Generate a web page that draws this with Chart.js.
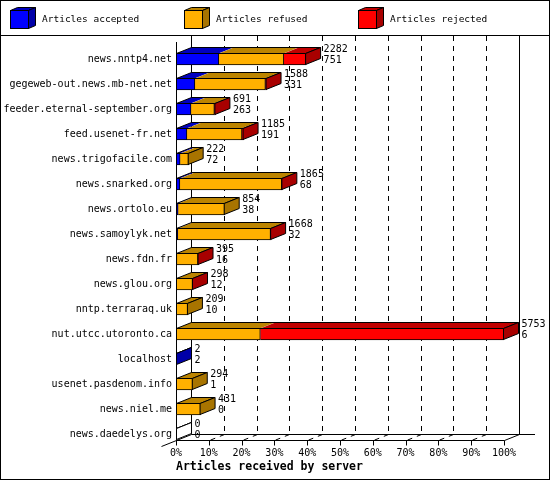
<!DOCTYPE html>
<html>
<head>
<meta charset="utf-8">
<script src="https://cdn.jsdelivr.net/npm/chart.js@4.4.0/dist/chart.umd.min.js"></script>
<style>
  html, body { margin: 0; padding: 0; background: #fff; }
  canvas { display: block; }
</style>
</head>
<body>
<canvas id="serverChart" width="550" height="480"></canvas>
<script>
// values
const servers = ['news.nntp4.net', 'gegeweb-out.news.mb-net.net', 'feeder.eternal-september.org',
  'feed.usenet-fr.net', 'news.trigofacile.com', 'news.snarked.org', 'news.ortolo.eu',
  'news.samoylyk.net', 'news.fdn.fr', 'news.glou.org', 'nntp.terraraq.uk', 'nut.utcc.utoronto.ca',
  'localhost', 'usenet.pasdenom.info', 'news.niel.me', 'news.daedelys.org'];
const received = [2282, 1588, 691, 1185, 222, 1865, 854, 1668, 395, 298, 209, 5753, 2, 294, 431, 0];
const accepted = [751, 331, 263, 191, 72, 68, 38, 32, 16, 12, 10, 6, 2, 1, 0, 0];
const refused = [1140, 1237, 410, 966, 150, 1787, 816, 1626, 370, 278, 199, 1473, 0, 293, 431, 0];
const rejected = [391, 20, 18, 28, 0, 10, 0, 10, 9, 8, 0, 4274, 0, 0, 0, 0];
const seriesNames = ['Articles accepted', 'Articles refused', 'Articles rejected'];
const percentTicks = [0, 10, 20, 30, 40, 50, 60, 70, 80, 90, 100];

const maxReceived = Math.max(...received);
const toPercent = arr => arr.map(v => v / maxReceived * 100);

const faceColors = [
  { front: '#0000ff', top: '#0000c0', side: '#0000a8' },
  { front: '#ffb000', top: '#bc8400', side: '#a87400' },
  { front: '#ff0000', top: '#c00000', side: '#a80000' }
];
const MONO = "'DejaVu Sans Mono', monospace";
const BAR_H = 12;
const DX = 15, DY = -6;

function poly(ctx, pts) {
  ctx.beginPath();
  ctx.moveTo(pts[0][0], pts[0][1]);
  for (let i = 1; i < pts.length; i++) ctx.lineTo(pts[i][0], pts[i][1]);
  ctx.closePath();
}

function line(ctx, x0, y0, x1, y1) {
  ctx.beginPath();
  ctx.moveTo(x0, y0);
  ctx.lineTo(x1, y1);
  ctx.stroke();
}

// draws the fake 3d parts: walls, floor, grid, top and side faces, legend
const box3d = {
  id: 'box3d',
  beforeDraw(chart) {
    const ctx = chart.ctx;
    ctx.save();
    ctx.fillStyle = '#fff';
    ctx.fillRect(0, 0, chart.width, chart.height);
    ctx.restore();
  },
  beforeDatasetsDraw(chart) {
    const { ctx, scales: { x, y } } = chart;
    const front = Math.round(y.getPixelForValue(servers.length - 1) + BAR_H / 2) + 0.5;
    const floor = front + DY;
    const x0 = Math.round(x.getPixelForValue(0)) + 0.5;
    const x100 = Math.round(x.getPixelForValue(100)) + 0.5;
    ctx.save();
    ctx.strokeStyle = '#000';
    ctx.lineWidth = 1;

    // dashed grid on the back wall and the floor
    ctx.setLineDash([5, 5]);
    percentTicks.slice(1, -1).forEach(v => {
      const xf = Math.round(x.getPixelForValue(v)) + 0.5;
      line(ctx, xf + DX, 36, xf + DX, floor);
      line(ctx, xf + DX, floor, xf, front);
    });
    ctx.setLineDash([]);

    // walls
    line(ctx, x0 + DX, 36, x0 + DX, floor);
    line(ctx, x100 + DX, 36, x100 + DX, floor);
    line(ctx, x0, 42, x0, front);
    // floor and front axis
    line(ctx, x0 + DX, floor, 535, floor);
    line(ctx, x0 - DX, front - DY, x0 + DX, floor);
    line(ctx, x0, front, x100, front);
    line(ctx, x100, front, x100 + DX, floor);
    percentTicks.forEach(v => {
      const xf = Math.round(x.getPixelForValue(v)) + 0.5;
      line(ctx, xf, front, xf, front + 5);
    });
    ctx.restore();
  },
  afterDatasetsDraw(chart) {
    const { ctx, scales: { x } } = chart;
    const metas = chart.data.datasets.map((d, k) => chart.getDatasetMeta(k));
    const xStart = Math.round(x.getPixelForValue(0)) + 0.5;
    ctx.save();
    ctx.strokeStyle = '#000';
    ctx.lineWidth = 1;
    servers.forEach((name, i) => {
      const bars = metas.map(m => m.data[i]);
      const yc = bars[0].y;
      const top = yc - BAR_H / 2 + 0.5;
      const bottom = yc + BAR_H / 2 - 0.5;
      let xe = xStart;
      let last = -1;
      bars.forEach((b, k) => {
        if (chart.data.datasets[k].data[i] > 0) {
          last = k;
          xe = Math.max(b.x - 0.5, xStart);
        }
      });
      // top faces, one per segment
      bars.forEach((b, k) => {
        if (chart.data.datasets[k].data[i] <= 0) return;
        const a = Math.max(b.base, xStart), e = Math.max(b.x - 0.5, xStart);
        ctx.fillStyle = faceColors[k].top;
        poly(ctx, [[a, top], [e, top], [e + DX, top + DY], [a + DX, top + DY]]);
        ctx.fill();
      });
      poly(ctx, [[xStart, top], [xe, top], [xe + DX, top + DY], [xStart + DX, top + DY]]);
      ctx.stroke();
      // side face coloured by the last segment
      ctx.fillStyle = last >= 0 ? faceColors[last].side : '#fff';
      poly(ctx, [[xe, top], [xe + DX, top + DY], [xe + DX, bottom + DY], [xe, bottom]]);
      ctx.fill();
      ctx.stroke();
      // front axis line over the bar starts
      line(ctx, xStart, top, xStart, bottom);

      ctx.fillStyle = '#000';
      ctx.font = '10px ' + MONO;
      ctx.textBaseline = 'middle';
      ctx.textAlign = 'left';
      ctx.fillText(String(received[i]), xe + DX + 3, yc - 10);
      ctx.fillText(String(accepted[i]), xe + DX + 3, yc + 1);
    });
    ctx.restore();
  },
  afterDraw(chart) {
    const ctx = chart.ctx;
    ctx.save();
    ctx.strokeStyle = '#000';
    ctx.lineWidth = 1;
    ctx.strokeRect(0.5, 0.5, chart.width - 1, chart.height - 1);
    line(ctx, 0, 35.5, chart.width, 35.5);

    // legend with little cubes
    seriesNames.forEach((label, k) => {
      const bx = 10.5 + 174 * k, by = 10.5, s = 18;
      ctx.fillStyle = faceColors[k].top;
      poly(ctx, [[bx, by], [bx + s, by], [bx + s + 7, by - 3], [bx + 7, by - 3]]);
      ctx.fill(); ctx.stroke();
      ctx.fillStyle = faceColors[k].side;
      poly(ctx, [[bx + s, by], [bx + s + 7, by - 3], [bx + s + 7, by + s - 3], [bx + s, by + s]]);
      ctx.fill(); ctx.stroke();
      ctx.fillStyle = faceColors[k].front;
      ctx.fillRect(bx, by, s, s);
      ctx.strokeRect(bx, by, s, s);
      ctx.fillStyle = '#000';
      ctx.font = '9.5px ' + MONO;
      ctx.textBaseline = 'middle';
      ctx.textAlign = 'left';
      ctx.fillText(label, bx + 31.5, 20);
    });
    ctx.restore();
  }
};

const ctx = document.getElementById('serverChart').getContext('2d');

const serverChart = new Chart(ctx, {
  type: 'bar',
  data: {
    labels: servers,
    datasets: [accepted, refused, rejected].map((vals, k) => ({
      label: seriesNames[k],
      data: toPercent(vals),
      backgroundColor: faceColors[k].front,
      borderColor: '#000',
      borderWidth: { top: 1, bottom: 1, right: 1, left: 0 },
      borderSkipped: false,
      barThickness: BAR_H
    }))
  },
  options: {
    indexAxis: 'y',
    responsive: false,
    animation: false,
    layout: { padding: { top: 46.5, right: 46, bottom: 6.5, left: 0 } },
    plugins: {
      legend: { display: false },
      tooltip: { enabled: false }
    },
    scales: {
      x: {
        stacked: true,
        min: 0,
        max: 100,
        afterBuildTicks: axis => { axis.ticks = percentTicks.map(v => ({ value: v })); },
        grid: { display: false, drawTicks: false },
        border: { display: false },
        ticks: {
          padding: 1,
          color: '#000',
          autoSkip: false,
          maxRotation: 0,
          font: { family: MONO, size: 10 },
          callback: v => v + '%'
        },
        title: {
          display: true,
          text: 'Articles received by server',
          align: 'start',
          color: '#000',
          font: { family: MONO, size: 11.5, weight: 'bold' },
          padding: { top: 0, bottom: 0 }
        },
        afterFit: axis => { axis.height = 27; }
      },
      y: {
        stacked: true,
        grid: { display: false, drawTicks: false },
        border: { display: false },
        ticks: {
          padding: 4,
          color: '#000',
          autoSkip: false,
          font: { family: MONO, size: 10 }
        },
        afterFit: axis => { axis.width = 176; }
      }
    }
  },
  plugins: [box3d]
});
</script>
</body>
</html>
